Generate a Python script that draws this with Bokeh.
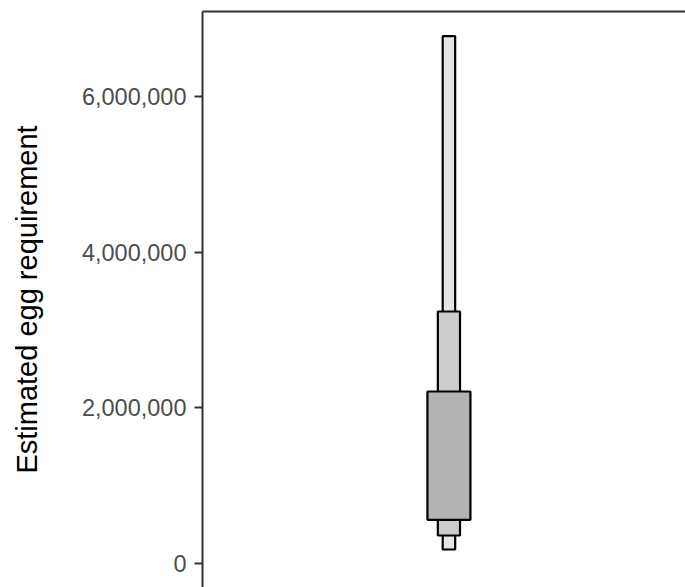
from bokeh.plotting import figure
from bokeh.models import ColumnDataSource, LinearAxis, NumeralTickFormatter, FixedTicker, Range1d
from bokeh.embed import file_html
from bokeh.resources import INLINE

# Letter-value (boxen) summary of the estimated egg requirement
levels = ["outer", "middle", "inner"]
lower = [180000, 360000, 561000]
upper = [6775000, 3238000, 2210000]
fills = ["#e5e5e5", "#cccccc", "#b3b3b3"]
widths = [0.0304, 0.0540, 0.1047]
xpos = [1, 1, 1]
y_ticks = [0, 2000000, 4000000, 6000000]

src = ColumnDataSource(dict(x=xpos, bottom=lower, top=upper, fill=fills, w=widths, lvl=levels))

p = figure(width=685, height=587, output_backend="svg", toolbar_location=None,
           x_range=Range1d(0.4, 1.576), y_range=Range1d(-308000, 7092000),
           x_axis_location=None, y_axis_location="left",
           min_border_left=202, min_border_top=11, min_border_right=0, min_border_bottom=0)
p.outline_line_color = None
p.xgrid.visible = False
p.ygrid.visible = False
p.background_fill_color = "white"
p.border_fill_color = "white"

p.vbar(x="x", width="w", bottom="bottom", top="top", fill_color="fill",
       line_color="black", line_width=2.2, source=src)

ax = p.yaxis[0]
ax.ticker = FixedTicker(ticks=y_ticks)
ax.formatter = NumeralTickFormatter(format="0,0")
ax.minor_tick_line_color = None
ax.major_tick_in = 0
ax.major_tick_out = 8
ax.major_tick_line_color = "#333333"
ax.major_tick_line_width = 2
ax.axis_line_color = "#333333"
ax.axis_line_width = 2
ax.major_label_text_font = "Liberation Sans"
ax.major_label_text_font_size = "23.5px"
ax.major_label_text_color = "#4d4d4d"
ax.major_label_standoff = 8
ax.axis_label = "Estimated egg requirement"
ax.axis_label_text_font = "Liberation Sans"
ax.axis_label_text_font_size = "29px"
ax.axis_label_text_font_style = "normal"
ax.axis_label_text_color = "black"
ax.axis_label_standoff = 36

top_axis = LinearAxis(ticker=FixedTicker(ticks=[]), major_tick_line_color=None,
                      minor_tick_line_color=None, axis_line_color="#333333",
                      axis_line_width=2, major_label_standoff=0)
p.add_layout(top_axis, "above")

open("out.html", "w").write(file_html(p, INLINE))
